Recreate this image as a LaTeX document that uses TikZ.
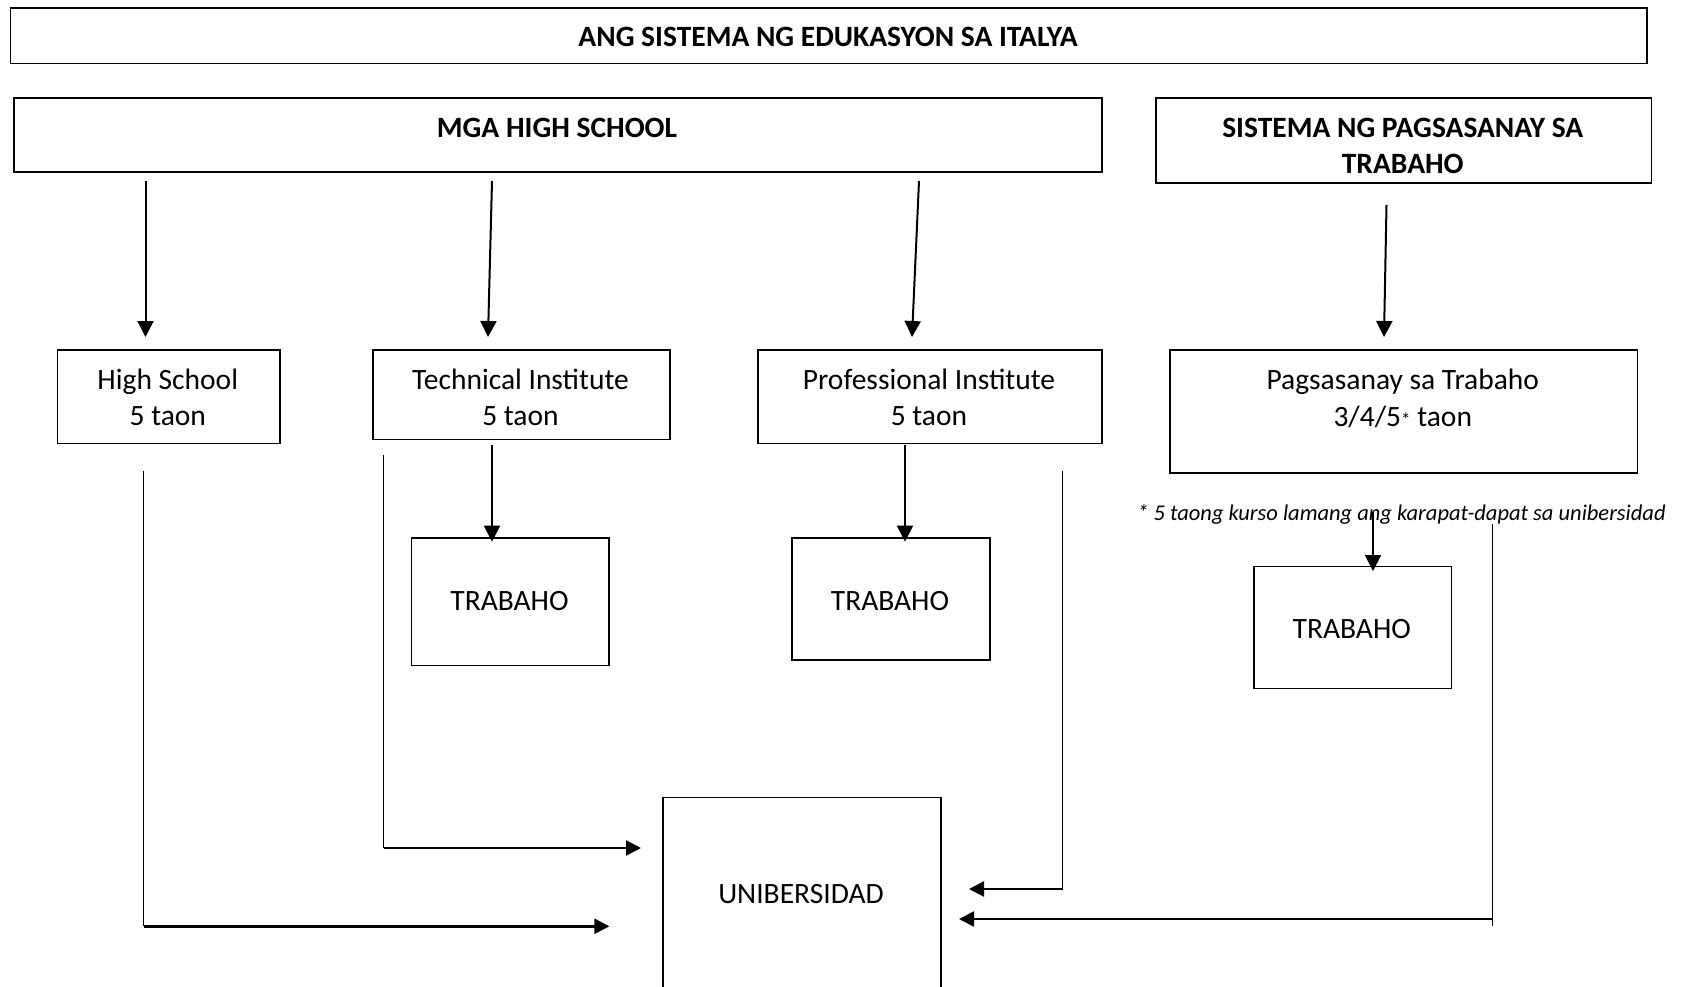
\documentclass[tikz,border=0pt]{standalone}
\usepackage{fontspec}
\setmainfont{Carlito}
\usetikzlibrary{arrows.meta}
\begin{document}
\begin{tikzpicture}[x=1pt,y=-1pt,
  box/.style={draw, line width=1.6pt, inner sep=0pt, anchor=north west},
  txt/.style={inner sep=0pt, align=center, font=\fontsize{29.5}{36.4}\selectfont},
  btxt/.style={txt, font=\fontsize{29.5}{36.4}\selectfont\bfseries},
  arr/.style={line width=2pt, -{Triangle[width=16pt,length=16pt]}},
  harr/.style={line width=2.4pt, -{Triangle[width=15pt,length=15pt]}},
  vline/.style={line width=1.5pt}]
\useasboundingbox (0,0) rectangle (1689,987);
\clip (0,0) rectangle (1689,987);
% boxes
\node[box, minimum width=1636.3pt, minimum height=55.4pt] (title) at (9.7,7.3) {};
\node[btxt] (titlet) at (828,37) {ANG SISTEMA NG EDUKASYON SA ITALYA};
\node[box, minimum width=1088.1pt, minimum height=73.7pt] (mga) at (12.9,97.3) {};
\node[btxt] (mgat) at (557,127.7) {MGA HIGH SCHOOL};
\node[box, minimum width=495.5pt, minimum height=85pt] (sis) at (1155,97.3) {};
\node[btxt] (sist) at (1402.75,146) {SISTEMA NG PAGSASANAY SA\\TRABAHO};
\node[box, minimum width=222.4pt, minimum height=93.4pt] (hs) at (56.6,349.3) {};
\node[txt] (hst) at (167.8,397.5) {High School\\5 taon};
\node[box, minimum width=297pt, minimum height=89.4pt] (tech) at (372,349.3) {};
\node[txt] (techt) at (520.5,397.5) {Technical Institute\\5 taon};
\node[box, minimum width=344pt, minimum height=93.4pt] (prof) at (757,349.3) {};
\node[txt] (proft) at (929,397.5) {Professional Institute\\5 taon};
\node[box, minimum width=467.5pt, minimum height=122.7pt] (pag) at (1169,349.3) {};
\node[txt] (pagt) at (1402.75,398.3) {Pagsasanay sa Trabaho\\3/4/5{\fontsize{19}{19}\selectfont *} taon};
\node[inner sep=0pt, font=\fontsize{22.5}{26}\selectfont\itshape] (note) at (1401.5,514) {* 5 taong kurso lamang ang karapat-dapat sa unibersidad};
\node[box, minimum width=197.7pt, minimum height=127.4pt] (tr1) at (410.6,537.3) {};
\node[txt] (tr1t) at (509.5,601) {TRABAHO};
\node[box, minimum width=198pt, minimum height=121.7pt] (tr2) at (791,537.3) {};
\node[txt] (tr2t) at (890,601) {TRABAHO};
\node[box, minimum width=197.6pt, minimum height=122pt] (tr3) at (1253,565.7) {};
\node[txt] (tr3t) at (1351.8,629.5) {TRABAHO};
\node[box, minimum width=278.4pt, minimum height=230pt] (uni) at (662,796.7) {};
\node[txt] (unit) at (801,894) {UNIBERSIDAD};
% connector end points
\coordinate (a1s) at (145.5,181);  \coordinate (a1e) at (145.5,337);
\coordinate (a2s) at (492,181);    \coordinate (a2e) at (488,337);
\coordinate (a3s) at (919,181);    \coordinate (a3e) at (912,337);
\coordinate (a4s) at (1386.5,205); \coordinate (a4e) at (1384,337);
\coordinate (a5s) at (492,445.3);  \coordinate (a5e) at (492,541.7);
\coordinate (a6s) at (905,445.3);  \coordinate (a6e) at (905,541.7);
\coordinate (a7s) at (1373,512);   \coordinate (a7e) at (1373,571);
\coordinate (b1s) at (143.5,470.7); \coordinate (b1c) at (143.5,926.3); \coordinate (b1e) at (609.4,926.3);
\coordinate (b2s) at (383.6,455.3); \coordinate (b2c) at (383.6,848);   \coordinate (b2e) at (641,848);
\coordinate (b3s) at (1062.7,470.7); \coordinate (b3c) at (1062.7,889); \coordinate (b3e) at (969,889);
\coordinate (b4s) at (1492.6,524);  \coordinate (b4b) at (1492.6,926.3);
\coordinate (b4c) at (1492.6,919);  \coordinate (b4e) at (959,919);
% connectors
\draw[arr] (a1s) -- (a1e);
\draw[arr] (a2s) -- (a2e);
\draw[arr] (a3s) -- (a3e);
\draw[arr] (a4s) -- (a4e);
\draw[arr] (a5s) -- (a5e);
\draw[arr] (a6s) -- (a6e);
\draw[arr] (a7s) -- (a7e);
\draw[vline] (b1s) -- (b1c); \draw[harr] (b1c) -- (b1e);
\draw[vline] (b2s) -- (b2c); \draw[harr] (b2c) -- (b2e);
\draw[vline] (b3s) -- (b3c); \draw[harr] (b3c) -- (b3e);
\draw[vline] (b4s) -- (b4b); \draw[harr] (b4c) -- (b4e);
\end{tikzpicture}
\end{document}
